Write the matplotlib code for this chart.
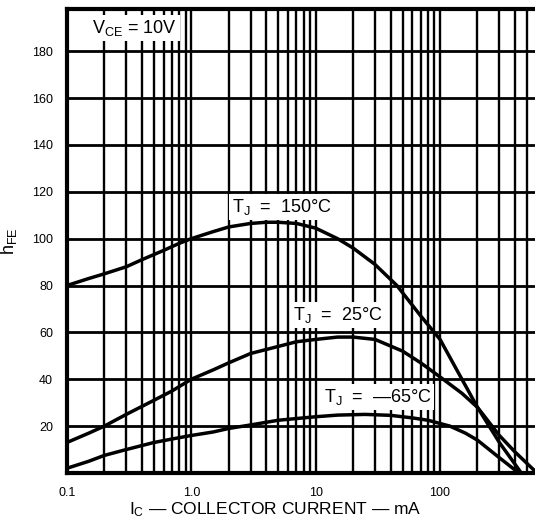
import matplotlib
matplotlib.use("Agg")
import matplotlib.pyplot as plt
from matplotlib.ticker import FixedLocator, NullFormatter

plt.rcParams['font.family'] = ['Liberation Sans', 'DejaVu Sans']
plt.rcParams['mathtext.fontset'] = 'custom'
plt.rcParams['mathtext.rm'] = 'Liberation Sans'
plt.rcParams['mathtext.it'] = 'Liberation Sans:italic'

# collector current (mA) vs DC current gain
ic_150 = [0.1, 0.15, 0.2, 0.3, 0.4, 0.6, 0.8, 1, 1.5, 2, 3, 4, 5, 7, 10, 15, 20, 30, 45, 70,
          100, 150, 200, 300, 450]
hfe_150 = [80, 83, 85, 88, 91, 95, 98, 100, 103, 105, 106.5, 107, 107, 106.5, 104.5, 100, 96,
           89, 80, 67, 57, 40, 28, 13, 0]

ic_25 = [0.1, 0.15, 0.2, 0.3, 0.5, 0.7, 1, 1.5, 2, 3, 5, 7, 10, 15, 20, 30, 50, 70, 100,
         150, 200, 300, 400, 575]
hfe_25 = [13, 17, 20, 25, 31, 35, 40, 44, 47, 51, 54, 56, 57, 58, 58, 57, 52, 47, 41,
          34, 28, 16, 9, 1]

ic_m65 = [0.1, 0.15, 0.2, 0.3, 0.5, 0.7, 1, 1.5, 2, 3, 5, 10, 15, 25, 40, 60, 80, 120,
          160, 200, 300, 430]
hfe_m65 = [2, 5, 7.5, 10, 13, 14.5, 16, 17.5, 19, 20.5, 22.5, 24, 24.7, 25, 24.6, 23.5,
           22.5, 20, 17, 14, 6.5, 0]

x_ticks = [0.1, 1, 10, 100]
x_tick_labels = ['0.1', '1.0', '10', '100']
y_ticks = [20, 40, 60, 80, 100, 120, 140, 160, 180]

fig = plt.figure(figsize=(5.35, 5.26), dpi=100)
ax = fig.add_axes([0.125, 0.1008, 0.875, 0.882])

ax.set_xscale('log')
ax.set_xlim(0.1, 580)
ax.set_ylim(0, 198)

# log grid: every 1..9 step in each decade
minor = [m * 10.0 ** d for d in range(-1, 3) for m in range(1, 10)]
ax.xaxis.set_major_locator(FixedLocator(x_ticks))
ax.xaxis.set_minor_locator(FixedLocator(minor))
ax.xaxis.set_minor_formatter(NullFormatter())
ax.set_xticklabels(x_tick_labels)
ax.set_yticks(y_ticks)

ax.grid(True, which='both', axis='x', color='black', linewidth=1.7)
ax.grid(True, which='major', axis='y', color='black', linewidth=2.0)
ax.tick_params(which='both', length=0, labelsize=9, pad=10)

for s in ['left', 'top', 'bottom']:
    ax.spines[s].set_linewidth(3.0)
ax.spines['right'].set_visible(False)

ax.plot(ic_150, hfe_150, color='black', linewidth=2.5)
ax.plot(ic_25, hfe_25, color='black', linewidth=2.5)
ax.plot(ic_m65, hfe_m65, color='black', linewidth=2.5)

box = dict(facecolor='white', edgecolor='none', pad=2)
ax.text(0.35, 190, r'$\mathrm{V_{CE}}$ = 10V', fontsize=13, ha='center', va='center', bbox=box)
ax.text(5.35, 113.5, r'$\mathrm{T_J}$  =  150°C', fontsize=13, ha='center', va='center', bbox=box)
ax.text(15.1, 67.4, r'$\mathrm{T_J}$  =  25°C', fontsize=13, ha='center', va='center', bbox=box)
ax.text(31.6, 32.4, r'$\mathrm{T_J}$  =  —65°C', fontsize=13, ha='center', va='center', bbox=box)

ax.set_xlabel(r'$\mathrm{I_C}$ — COLLECTOR CURRENT — mA', fontsize=12.5)
ax.xaxis.set_label_coords(0.445, -0.058)
ax.set_ylabel(r'$\mathrm{h_{FE}}$', fontsize=13, labelpad=9)

fig.savefig('out.png', dpi=100)
